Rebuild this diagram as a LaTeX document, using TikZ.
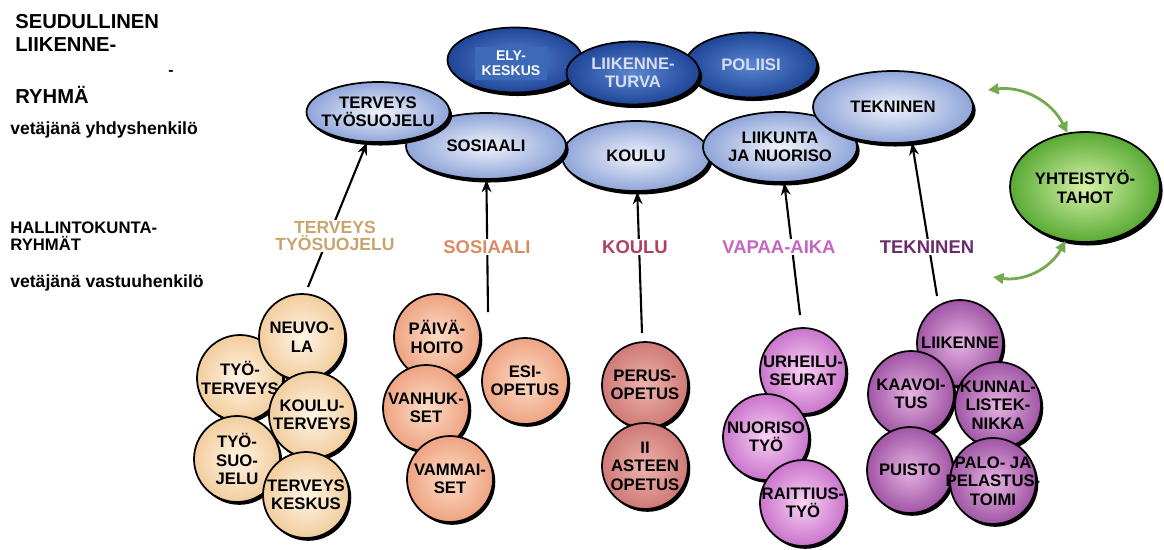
\documentclass[tikz,border=0pt]{standalone}
\usepackage{fontspec}
\setmainfont{Liberation Sans}
\usepackage{tikz}
\usetikzlibrary{positioning}
\usetikzlibrary{shapes.geometric,shadows,arrows.meta}

\definecolor{bluedkin}{HTML}{5B87D2}
\definecolor{bluedkout}{HTML}{1F4597}
\definecolor{bluetxt}{HTML}{D6DEEF}
\definecolor{elybox}{HTML}{3D6AB8}
\definecolor{blueltin}{HTML}{F0F3FB}
\definecolor{blueltout}{HTML}{8FA5D9}
\definecolor{grnin}{HTML}{D8F2A8}
\definecolor{grnout}{HTML}{58AA34}
\definecolor{grnarr}{HTML}{74AA4E}
\definecolor{creamin}{HTML}{FFF5E6}
\definecolor{creamout}{HTML}{F2CD9E}
\definecolor{salmin}{HTML}{FDDCC6}
\definecolor{salmout}{HTML}{EEA482}
\definecolor{rosein}{HTML}{EDB3AE}
\definecolor{roseout}{HTML}{CF7A76}
\definecolor{pinkin}{HTML}{FAD2F5}
\definecolor{pinkout}{HTML}{C974CB}
\definecolor{purpin}{HTML}{E6B4E2}
\definecolor{purpout}{HTML}{A055A5}
\definecolor{cterv}{HTML}{C9A56E}
\definecolor{csos}{HTML}{D88B64}
\definecolor{ckoul}{HTML}{B13F5C}
\definecolor{cvap}{HTML}{C565BF}
\definecolor{ctek}{HTML}{6B2C6D}

\begin{document}
\begin{tikzpicture}[x=0.02cm, y=-0.02cm,
    txt/.style = {anchor=west, inner sep=0pt, align=left},
    ell/.style = {ellipse, draw, line width=1pt, inner sep=-8pt, align=center,
        drop shadow={shadow xshift=1.5pt, shadow yshift=-2pt, opacity=1, fill=black},
        font=\fontsize{9.5}{10.5}\selectfont\bfseries},
    dark/.style = {ell, inner color=bluedkin, outer color=bluedkout, text=bluetxt},
    light/.style = {ell, inner color=blueltin, outer color=blueltout},
    ball/.style = {circle, draw, line width=1pt, inner sep=-8pt, minimum size=1.72cm, align=center,
        drop shadow={shadow xshift=1.3pt, shadow yshift=-1.6pt, opacity=1, fill=black},
        font=\fontsize{9.5}{10.5}\selectfont\bfseries},
    cream/.style = {ball, inner color=creamin, outer color=creamout},
    salm/.style = {ball, inner color=salmin, outer color=salmout},
    rose/.style = {ball, inner color=rosein, outer color=roseout},
    pink/.style = {ball, inner color=pinkin, outer color=pinkout},
    purp/.style = {ball, inner color=purpin, outer color=purpout},
    grp/.style = {fill=white, inner sep=1pt, align=center, font=\fontsize{10.5}{11}\selectfont\bfseries},
    arr/.style = {-{Stealth[length=7pt, width=5.5pt]}, line width=1.2pt},
    garr/.style = {{Triangle[length=6pt, width=6pt]}-{Triangle[length=6pt, width=6pt]}, line width=1.6pt, draw=grnarr}]
    \useasboundingbox (0,0) rectangle (1164,549);

    % left column texts
    \node[txt, font=\fontsize{11.5}{12}\selectfont\bfseries] (seud) at (15,22) {SEUDULLINEN};
    \node[txt, font=\fontsize{11.5}{12}\selectfont\bfseries] (liikenne) at (15,45) {LIIKENNE-};
    \node[txt, font=\fontsize{9}{9}\selectfont\bfseries] (viiva) at (168,73) {-};
    \node[txt, font=\fontsize{11.5}{12}\selectfont\bfseries] (ryhma) at (15,95) {RYHMÄ};
    \node[txt, font=\fontsize{10}{10}\selectfont\bfseries] (vetaja1) at (10,130) {vetäjänä yhdyshenkilö};
    \node[txt, font=\fontsize{9.5}{9.7}\selectfont\bfseries] (hallinto) at (10,236) {HALLINTOKUNTA-\\RYHMÄT};
    \node[txt, font=\fontsize{10}{10}\selectfont\bfseries] (vetaja2) at (10,283) {vetäjänä vastuuhenkilö};

    % regional group
    \node[dark, minimum width=2.7cm, minimum height=1.3cm] (ely) at (515,60) {};
    \node[fill=elybox, text=white, align=center, inner sep=1pt, minimum width=1.46cm, minimum height=0.66cm,
        font=\fontsize{8}{8.6}\selectfont\bfseries] (elytxt) at (511,63) {ELY-\\KESKUS};
    \node[dark, minimum width=2.64cm, minimum height=1.3cm] (poliisi) at (751,65) {POLIISI};
    \node[dark, minimum width=2.66cm, minimum height=1.26cm] (turva) at (633,73) {LIIKENNE-\\TURVA};

    \node[light, minimum width=2.96cm, minimum height=1.4cm] (koulu) at (636,156) {KOULU};
    \node[light, minimum width=3.2cm, minimum height=1.32cm] (sos) at (486,146) {SOSIAALI};
    \node[light, minimum width=2.86cm, minimum height=1.2cm] (terv) at (378,112) {TERVEYS\\TYÖSUOJELU};
    \node[light, minimum width=3.08cm, minimum height=1.4cm] (liikunta) at (780,147) {LIIKUNTA\\JA NUORISO};
    \node[light, minimum width=3.2cm, minimum height=1.44cm] (tekn) at (893,107) {TEKNINEN};

    \node[ell, inner color=grnin, outer color=grnout, minimum width=3cm, minimum height=2.2cm] (yht) at (1085,187) {YHTEISTYÖ-\\TAHOT};
    \coordinate (yhtyla) at (988,90);
    \coordinate (yhtala) at (993,277);
    \draw[garr] (yhtyla) to[bend left=35] (yht.108);
    \draw[garr] (yht.250) to[bend left=35] (yhtala);

    % administration groups
    \coordinate (tervpaa) at (308,287);
    \coordinate (sospaa) at (488,312);
    \coordinate (koulupaa) at (642,333);
    \coordinate (vappaa) at (800,315);
    \coordinate (tekpaa) at (937,296);
    \draw[arr] (tervpaa) -- (terv.250);
    \draw[arr] (sospaa) -- (sos);
    \draw[arr] (koulupaa) -- (koulu);
    \draw[arr] (vappaa) -- (liikunta);
    \draw[arr] (tekpaa) -- (tekn.298);

    \node[grp, text=cterv, font=\fontsize{10}{9.5}\selectfont\bfseries] (gterv) at (335,236) {TERVEYS\\TYÖSUOJELU};
    \node[grp, text=csos] (gsos) at (487,247) {SOSIAALI};
    \node[grp, text=ckoul] (gkoulu) at (635,247) {KOULU};
    \node[grp, text=cvap] (gvap) at (779,247) {VAPAA-AIKA};
    \node[grp, text=ctek] (gtek) at (927,247) {TEKNINEN};

    % balls
    \node[cream] (tyoterv) at (240,378) {TYÖ-\\TERVEYS};
    \node[cream] (neuvola) at (302,337) {NEUVO-\\LA};
    \node[cream] (tyosuo) at (237,459) {TYÖ-\\SUO-\\JELU};
    \node[cream] (kouluterv) at (312,415) {KOULU-\\TERVEYS};
    \node[cream] (tkeskus) at (306,495) {TERVEYS\\KESKUS};

    \node[salm] (paiva) at (437,337) {PÄIVÄ-\\HOITO};
    \node[salm] (esi) at (525,381) {ESI-\\OPETUS};
    \node[salm] (vanhuk) at (426,408) {VANHUK-\\SET};
    \node[salm] (vammai) at (450,479) {VAMMAI-\\SET};

    \node[rose] (perus) at (645,385) {PERUS-\\OPETUS};
    \node[rose] (asteen) at (645,466) {II\\ASTEEN\\OPETUS};

    \node[pink] (urheilu) at (803,371) {URHEILU-\\SEURAT};
    \node[pink] (nuoriso) at (766,437) {NUORISO\\TYÖ};
    \node[pink] (raittius) at (803,503) {RAITTIUS-\\TYÖ};

    \node[purp] (liik) at (960,343) {LIIKENNE};
    \node[purp] (kaavoitus) at (911,394) {KAAVOI-\\TUS};
    \node[purp] (kunnal) at (998,405) {KUNNAL-\\LISTEK-\\NIKKA};
    \node[purp] (puisto) at (910,470) {PUISTO};
    \node[purp] (palo) at (993,481) {PALO- JA\\PELASTUS-\\TOIMI};
\end{tikzpicture}
\end{document}
